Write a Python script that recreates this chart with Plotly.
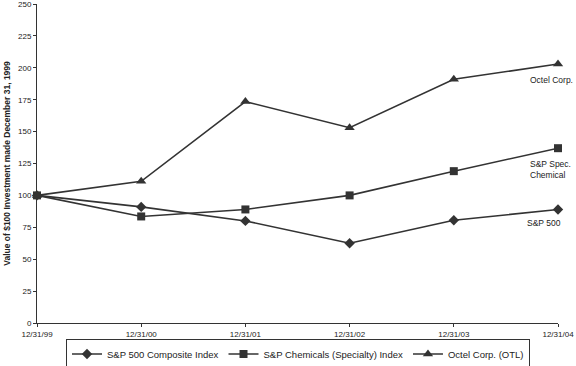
import plotly.graph_objects as go

dates = ["12/31/99", "12/31/00", "12/31/01", "12/31/02", "12/31/03", "12/31/04"]
sp500 = [100, 91, 80, 62.5, 80.5, 89]
sp_chem = [100, 83.5, 89, 100, 119, 137]
octel = [100, 111, 173.5, 153, 191, 203]

names = ["S&P 500 Composite Index", "S&P Chemicals (Specialty) Index", "Octel Corp. (OTL)"]
series = [sp500, sp_chem, octel]
symbols = ["diamond", "square", "triangle-up"]
sizes = [8, 8, 9]

x = list(range(len(dates)))
col = "#333333"
fig = go.Figure()
for n, s, sym, sz in zip(names, series, symbols, sizes):
    fig.add_trace(go.Scatter(x=x, y=s, name=n, mode="lines+markers",
                             line=dict(color=col, width=1.6),
                             marker=dict(symbol=sym, size=sz, color=col),
                             cliponaxis=False))

font = "Liberation Sans, Arial, sans-serif"
ann = [
    (5, octel[-1], "Octel Corp.", "center", -7, -16),
    (5, sp_chem[-1], "S&P Spec.<br>Chemical", "left", -30, -21),
    (5, sp500[-1], "S&P 500", "center", -14, -14),
]
for xa, ya, t, xa_, dx, dy in ann:
    fig.add_annotation(x=xa, y=ya, text=t, showarrow=False, xanchor=xa_,
                       yanchor="middle", xshift=dx, yshift=dy,
                       font=dict(family=font, size=8.5, color="#222"), align="left")

fig.update_layout(
    width=576, height=366,
    margin=dict(l=37, r=18, t=4, b=43),
    paper_bgcolor="white", plot_bgcolor="white",
    font=dict(family=font, size=8, color="#222"),
    showlegend=True,
    legend=dict(orientation="h", x=298 / 576, xanchor="center", xref="container",
                y=12 / 366, yanchor="middle", yref="container",
                bordercolor="#333", borderwidth=1, font=dict(size=9.5, color="#222"),
                itemwidth=30, tracegroupgap=0),
    xaxis=dict(range=[0, 5], tickvals=x, ticktext=dates, showline=True, linecolor=col,
               linewidth=1, ticks="outside", ticklen=3, tickcolor=col, showgrid=False,
               zeroline=False, tickfont=dict(size=8), automargin=False,
               ticklabeloverflow="allow"),
    yaxis=dict(range=[0, 250], tickvals=list(range(0, 251, 25)), showline=True,
               linecolor=col, linewidth=1, automargin=False, ticklabeloverflow="allow",
               ticks="outside", ticklen=3, tickcolor=col, showgrid=False, zeroline=False,
               tickfont=dict(size=8),
               title=dict(text="<b>Value of $100 Investment made December 31, 1999</b>",
                          font=dict(size=8.5), standoff=6)),
)
fig.write_html("out.html")
